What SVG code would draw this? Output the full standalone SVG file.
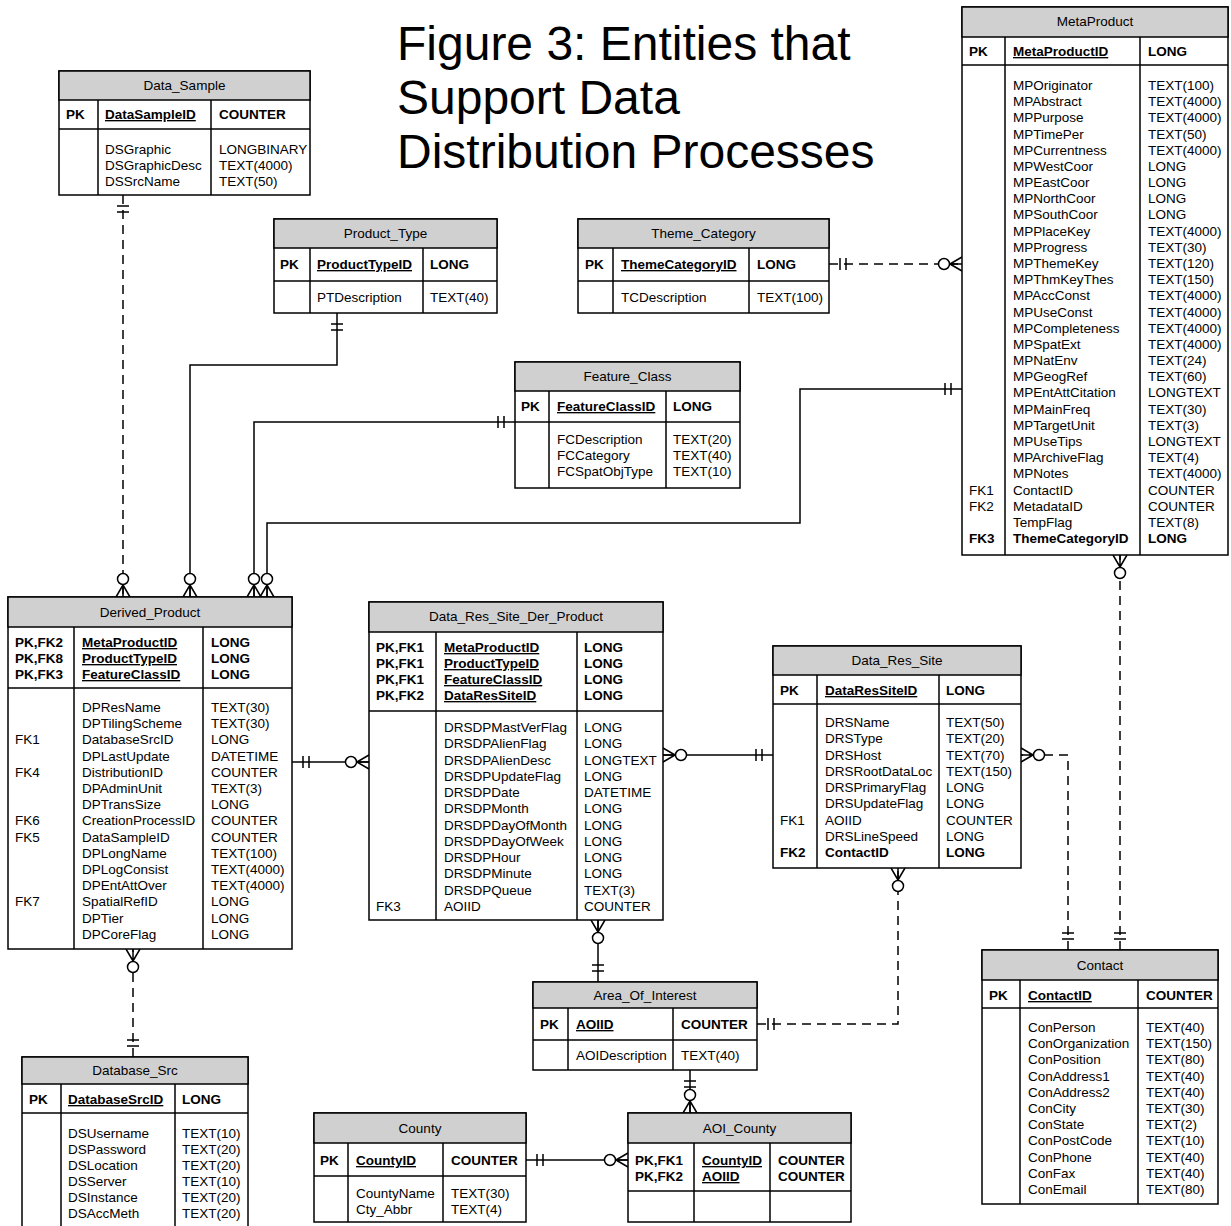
<svg xmlns="http://www.w3.org/2000/svg" width="1231" height="1226" viewBox="0 0 1231 1226">
<style>
text{font-family:"Liberation Sans",Arial,Helvetica,sans-serif;font-size:13.5px;fill:#000}
.title{font-size:48px}
.c{text-anchor:middle}
.b{font-weight:bold}
.u{text-decoration:underline}
.box{fill:#fff;stroke:#000;stroke-width:1.5}
.hdr{fill:#d0d0d0;stroke:#000;stroke-width:1.5}
.ln{stroke:#000;stroke-width:1.5}
.cn{fill:none;stroke:#000;stroke-width:1.5;marker-start:url(#one);marker-end:url(#zm)}
.d{stroke-dasharray:9 6}
</style>
<defs>
<marker id="one" markerUnits="userSpaceOnUse" markerWidth="40" markerHeight="20" refX="0" refY="0" orient="auto-start-reverse" style="overflow:visible">
<path d="M-11,-6V6M-17,-6V6" fill="none" stroke="#000" stroke-width="1.5"/>
</marker>
<marker id="zm" markerUnits="userSpaceOnUse" markerWidth="40" markerHeight="20" refX="0" refY="0" orient="auto" style="overflow:visible">
<path d="M-12,0L0,-7M-12,0L0,0M-12,0L0,7" fill="none" stroke="#000" stroke-width="1.5"/>
<circle cx="-18" cy="0" r="5.5" fill="#fff" stroke="#000" stroke-width="1.5"/>
</marker>
</defs>
<rect width="1231" height="1226" fill="#fff"/>

<g id="title">
<text class="title" x="397" y="60">Figure 3: Entities that</text>
<text class="title" x="397" y="114">Support Data</text>
<text class="title" x="397" y="168">Distribution Processes</text>
</g>

<g id="connectors">
<path class="cn d" d="M123,195V597"/>
<path class="cn" d="M337,313V365H190V597"/>
<path class="cn" d="M515,422H254V597"/>
<path class="cn" d="M962,389H800V523H267V597"/>
<path class="cn" d="M292,762H369"/>
<path class="cn" d="M773,755H663"/>
<path class="cn d" d="M1068,950V755H1021"/>
<path class="cn d" d="M1120,950V555"/>
<path class="cn d" d="M829,264H962"/>
<path class="cn d" d="M133,1057V949"/>
<path class="cn" d="M598,982V920"/>
<path class="cn d" d="M757,1024H898V868"/>
<path class="cn" d="M690,1070V1113"/>
<path class="cn" d="M526,1160H628"/>
</g>

<g id="Data_Sample">
<rect class="box" x="59" y="71" width="251" height="124"/>
<rect class="hdr" x="59" y="71" width="251" height="29"/>
<line class="ln" x1="59" y1="129" x2="310" y2="129"/>
<line class="ln" x1="98" y1="100" x2="98" y2="195"/>
<line class="ln" x1="211" y1="100" x2="211" y2="195"/>
<text class="c" x="184.5" y="90">Data_Sample</text>
<text class="b" x="66" y="119">PK</text>
<text class="b u" x="105" y="119">DataSampleID</text>
<text class="b" x="219" y="119">COUNTER</text>
<text x="105" y="154">DSGraphic</text>
<text x="105" y="170">DSGraphicDesc</text>
<text x="105" y="186">DSSrcName</text>
<text x="219" y="154">LONGBINARY</text>
<text x="219" y="170">TEXT(4000)</text>
<text x="219" y="186">TEXT(50)</text>
</g>

<g id="Product_Type">
<rect class="box" x="274" y="219" width="223" height="94"/>
<rect class="hdr" x="274" y="219" width="223" height="29"/>
<line class="ln" x1="274" y1="281" x2="497" y2="281"/>
<line class="ln" x1="310" y1="248" x2="310" y2="313"/>
<line class="ln" x1="423" y1="248" x2="423" y2="313"/>
<text class="c" x="385.5" y="238">Product_Type</text>
<text class="b" x="280" y="269">PK</text>
<text class="b u" x="317" y="269">ProductTypeID</text>
<text class="b" x="430" y="269">LONG</text>
<text x="317" y="302">PTDescription</text>
<text x="430" y="302">TEXT(40)</text>
</g>

<g id="Theme_Category">
<rect class="box" x="578" y="219" width="251" height="94"/>
<rect class="hdr" x="578" y="219" width="251" height="29"/>
<line class="ln" x1="578" y1="281" x2="829" y2="281"/>
<line class="ln" x1="613" y1="248" x2="613" y2="313"/>
<line class="ln" x1="749" y1="248" x2="749" y2="313"/>
<text class="c" x="703.5" y="238">Theme_Category</text>
<text class="b" x="585" y="269">PK</text>
<text class="b u" x="621" y="269">ThemeCategoryID</text>
<text class="b" x="757" y="269">LONG</text>
<text x="621" y="302">TCDescription</text>
<text x="757" y="302">TEXT(100)</text>
</g>

<g id="Feature_Class">
<rect class="box" x="515" y="362" width="225" height="126"/>
<rect class="hdr" x="515" y="362" width="225" height="29"/>
<line class="ln" x1="515" y1="422" x2="740" y2="422"/>
<line class="ln" x1="549" y1="391" x2="549" y2="488"/>
<line class="ln" x1="666" y1="391" x2="666" y2="488"/>
<text class="c" x="627.5" y="381">Feature_Class</text>
<text class="b" x="521" y="411">PK</text>
<text class="b u" x="557" y="411">FeatureClassID</text>
<text class="b" x="673" y="411">LONG</text>
<text x="557" y="444">FCDescription</text>
<text x="557" y="460">FCCategory</text>
<text x="557" y="476">FCSpatObjType</text>
<text x="673" y="444">TEXT(20)</text>
<text x="673" y="460">TEXT(40)</text>
<text x="673" y="476">TEXT(10)</text>
</g>

<g id="MetaProduct">
<rect class="box" x="962" y="7" width="266" height="548"/>
<rect class="hdr" x="962" y="7" width="266" height="30"/>
<line class="ln" x1="962" y1="65" x2="1228" y2="65"/>
<line class="ln" x1="1005" y1="37" x2="1005" y2="555"/>
<line class="ln" x1="1140" y1="37" x2="1140" y2="555"/>
<text class="c" x="1095" y="26">MetaProduct</text>
<text class="b" x="969" y="56">PK</text>
<text class="b u" x="1013" y="56">MetaProductID</text>
<text class="b" x="1148" y="56">LONG</text>
<text x="969"><tspan x="969" y="494.5">FK1</tspan><tspan x="969" y="510.7">FK2</tspan></text>
<text class="b" x="969" y="543">FK3</text>
<text><tspan x="1013" y="90">MPOriginator</tspan><tspan x="1013" y="106.2">MPAbstract</tspan><tspan x="1013" y="122.4">MPPurpose</tspan><tspan x="1013" y="138.5">MPTimePer</tspan><tspan x="1013" y="154.7">MPCurrentness</tspan><tspan x="1013" y="170.9">MPWestCoor</tspan><tspan x="1013" y="187.1">MPEastCoor</tspan><tspan x="1013" y="203.3">MPNorthCoor</tspan><tspan x="1013" y="219.4">MPSouthCoor</tspan><tspan x="1013" y="235.6">MPPlaceKey</tspan><tspan x="1013" y="251.8">MPProgress</tspan><tspan x="1013" y="268">MPThemeKey</tspan><tspan x="1013" y="284.2">MPThmKeyThes</tspan><tspan x="1013" y="300.3">MPAccConst</tspan><tspan x="1013" y="316.5">MPUseConst</tspan><tspan x="1013" y="332.7">MPCompleteness</tspan><tspan x="1013" y="348.9">MPSpatExt</tspan><tspan x="1013" y="365.1">MPNatEnv</tspan><tspan x="1013" y="381.2">MPGeogRef</tspan><tspan x="1013" y="397.4">MPEntAttCitation</tspan><tspan x="1013" y="413.6">MPMainFreq</tspan><tspan x="1013" y="429.8">MPTargetUnit</tspan><tspan x="1013" y="446">MPUseTips</tspan><tspan x="1013" y="462.1">MPArchiveFlag</tspan><tspan x="1013" y="478.3">MPNotes</tspan><tspan x="1013" y="494.5">ContactID</tspan><tspan x="1013" y="510.7">MetadataID</tspan><tspan x="1013" y="526.9">TempFlag</tspan></text>
<text class="b" x="1013" y="543">ThemeCategoryID</text>
<text><tspan x="1148" y="90">TEXT(100)</tspan><tspan x="1148" y="106.2">TEXT(4000)</tspan><tspan x="1148" y="122.4">TEXT(4000)</tspan><tspan x="1148" y="138.5">TEXT(50)</tspan><tspan x="1148" y="154.7">TEXT(4000)</tspan><tspan x="1148" y="170.9">LONG</tspan><tspan x="1148" y="187.1">LONG</tspan><tspan x="1148" y="203.3">LONG</tspan><tspan x="1148" y="219.4">LONG</tspan><tspan x="1148" y="235.6">TEXT(4000)</tspan><tspan x="1148" y="251.8">TEXT(30)</tspan><tspan x="1148" y="268">TEXT(120)</tspan><tspan x="1148" y="284.2">TEXT(150)</tspan><tspan x="1148" y="300.3">TEXT(4000)</tspan><tspan x="1148" y="316.5">TEXT(4000)</tspan><tspan x="1148" y="332.7">TEXT(4000)</tspan><tspan x="1148" y="348.9">TEXT(4000)</tspan><tspan x="1148" y="365.1">TEXT(24)</tspan><tspan x="1148" y="381.2">TEXT(60)</tspan><tspan x="1148" y="397.4">LONGTEXT</tspan><tspan x="1148" y="413.6">TEXT(30)</tspan><tspan x="1148" y="429.8">TEXT(3)</tspan><tspan x="1148" y="446">LONGTEXT</tspan><tspan x="1148" y="462.1">TEXT(4)</tspan><tspan x="1148" y="478.3">TEXT(4000)</tspan><tspan x="1148" y="494.5">COUNTER</tspan><tspan x="1148" y="510.7">COUNTER</tspan><tspan x="1148" y="526.9">TEXT(8)</tspan></text>
<text class="b" x="1148" y="543">LONG</text>
</g>

<g id="Derived_Product">
<rect class="box" x="8" y="597" width="284" height="352"/>
<rect class="hdr" x="8" y="597" width="284" height="30"/>
<line class="ln" x1="8" y1="688" x2="292" y2="688"/>
<line class="ln" x1="74" y1="627" x2="74" y2="949"/>
<line class="ln" x1="203" y1="627" x2="203" y2="949"/>
<text class="c" x="150" y="617">Derived_Product</text>
<text class="b"><tspan x="15" y="647">PK,FK2</tspan><tspan x="15" y="663">PK,FK8</tspan><tspan x="15" y="679">PK,FK3</tspan></text>
<text class="b u"><tspan x="82" y="647">MetaProductID</tspan><tspan x="82" y="663">ProductTypeID</tspan><tspan x="82" y="679">FeatureClassID</tspan></text>
<text class="b"><tspan x="211" y="647">LONG</tspan><tspan x="211" y="663">LONG</tspan><tspan x="211" y="679">LONG</tspan></text>
<text><tspan x="15" y="744.4">FK1</tspan><tspan x="15" y="776.8">FK4</tspan><tspan x="15" y="825.4">FK6</tspan><tspan x="15" y="841.6">FK5</tspan><tspan x="15" y="906.4">FK7</tspan></text>
<text><tspan x="82" y="712">DPResName</tspan><tspan x="82" y="728.2">DPTilingScheme</tspan><tspan x="82" y="744.4">DatabaseSrcID</tspan><tspan x="82" y="760.6">DPLastUpdate</tspan><tspan x="82" y="776.8">DistributionID</tspan><tspan x="82" y="793">DPAdminUnit</tspan><tspan x="82" y="809.2">DPTransSize</tspan><tspan x="82" y="825.4">CreationProcessID</tspan><tspan x="82" y="841.6">DataSampleID</tspan><tspan x="82" y="857.8">DPLongName</tspan><tspan x="82" y="874">DPLogConsist</tspan><tspan x="82" y="890.2">DPEntAttOver</tspan><tspan x="82" y="906.4">SpatialRefID</tspan><tspan x="82" y="922.6">DPTier</tspan><tspan x="82" y="938.8">DPCoreFlag</tspan></text>
<text><tspan x="211" y="712">TEXT(30)</tspan><tspan x="211" y="728.2">TEXT(30)</tspan><tspan x="211" y="744.4">LONG</tspan><tspan x="211" y="760.6">DATETIME</tspan><tspan x="211" y="776.8">COUNTER</tspan><tspan x="211" y="793">TEXT(3)</tspan><tspan x="211" y="809.2">LONG</tspan><tspan x="211" y="825.4">COUNTER</tspan><tspan x="211" y="841.6">COUNTER</tspan><tspan x="211" y="857.8">TEXT(100)</tspan><tspan x="211" y="874">TEXT(4000)</tspan><tspan x="211" y="890.2">TEXT(4000)</tspan><tspan x="211" y="906.4">LONG</tspan><tspan x="211" y="922.6">LONG</tspan><tspan x="211" y="938.8">LONG</tspan></text>
</g>

<g id="Data_Res_Site_Der_Product">
<rect class="box" x="369" y="602" width="294" height="318"/>
<rect class="hdr" x="369" y="602" width="294" height="30"/>
<line class="ln" x1="369" y1="711" x2="663" y2="711"/>
<line class="ln" x1="436" y1="632" x2="436" y2="920"/>
<line class="ln" x1="577" y1="632" x2="577" y2="920"/>
<text class="c" x="516" y="621">Data_Res_Site_Der_Product</text>
<text class="b"><tspan x="376" y="652">PK,FK1</tspan><tspan x="376" y="668">PK,FK1</tspan><tspan x="376" y="684">PK,FK1</tspan><tspan x="376" y="700">PK,FK2</tspan></text>
<text class="b u"><tspan x="444" y="652">MetaProductID</tspan><tspan x="444" y="668">ProductTypeID</tspan><tspan x="444" y="684">FeatureClassID</tspan><tspan x="444" y="700">DataResSiteID</tspan></text>
<text class="b"><tspan x="584" y="652">LONG</tspan><tspan x="584" y="668">LONG</tspan><tspan x="584" y="684">LONG</tspan><tspan x="584" y="700">LONG</tspan></text>
<text x="376" y="911">FK3</text>
<text><tspan x="444" y="732">DRSDPMastVerFlag</tspan><tspan x="444" y="748.3">DRSDPAlienFlag</tspan><tspan x="444" y="764.5">DRSDPAlienDesc</tspan><tspan x="444" y="780.8">DRSDPUpdateFlag</tspan><tspan x="444" y="797.1">DRSDPDate</tspan><tspan x="444" y="813.4">DRSDPMonth</tspan><tspan x="444" y="829.6">DRSDPDayOfMonth</tspan><tspan x="444" y="845.9">DRSDPDayOfWeek</tspan><tspan x="444" y="862.2">DRSDPHour</tspan><tspan x="444" y="878.4">DRSDPMinute</tspan><tspan x="444" y="894.7">DRSDPQueue</tspan><tspan x="444" y="911">AOIID</tspan></text>
<text><tspan x="584" y="732">LONG</tspan><tspan x="584" y="748.3">LONG</tspan><tspan x="584" y="764.5">LONGTEXT</tspan><tspan x="584" y="780.8">LONG</tspan><tspan x="584" y="797.1">DATETIME</tspan><tspan x="584" y="813.4">LONG</tspan><tspan x="584" y="829.6">LONG</tspan><tspan x="584" y="845.9">LONG</tspan><tspan x="584" y="862.2">LONG</tspan><tspan x="584" y="878.4">LONG</tspan><tspan x="584" y="894.7">TEXT(3)</tspan><tspan x="584" y="911">COUNTER</tspan></text>
</g>

<g id="Data_Res_Site">
<rect class="box" x="773" y="646" width="248" height="222"/>
<rect class="hdr" x="773" y="646" width="248" height="29"/>
<line class="ln" x1="773" y1="704" x2="1021" y2="704"/>
<line class="ln" x1="817" y1="675" x2="817" y2="868"/>
<line class="ln" x1="939" y1="675" x2="939" y2="868"/>
<text class="c" x="897" y="665">Data_Res_Site</text>
<text class="b" x="780" y="695">PK</text>
<text class="b u" x="825" y="695">DataResSiteID</text>
<text class="b" x="946" y="695">LONG</text>
<text x="780" y="824.5">FK1</text>
<text class="b" x="780" y="857">FK2</text>
<text><tspan x="825" y="727">DRSName</tspan><tspan x="825" y="743.3">DRSType</tspan><tspan x="825" y="759.5">DRSHost</tspan><tspan x="825" y="775.8">DRSRootDataLoc</tspan><tspan x="825" y="792">DRSPrimaryFlag</tspan><tspan x="825" y="808.3">DRSUpdateFlag</tspan><tspan x="825" y="824.5">AOIID</tspan><tspan x="825" y="840.8">DRSLineSpeed</tspan></text>
<text class="b" x="825" y="857">ContactID</text>
<text><tspan x="946" y="727">TEXT(50)</tspan><tspan x="946" y="743.3">TEXT(20)</tspan><tspan x="946" y="759.5">TEXT(70)</tspan><tspan x="946" y="775.8">TEXT(150)</tspan><tspan x="946" y="792">LONG</tspan><tspan x="946" y="808.3">LONG</tspan><tspan x="946" y="824.5">COUNTER</tspan><tspan x="946" y="840.8">LONG</tspan></text>
<text class="b" x="946" y="857">LONG</text>
</g>

<g id="Contact">
<rect class="box" x="982" y="950" width="236" height="254"/>
<rect class="hdr" x="982" y="950" width="236" height="30"/>
<line class="ln" x1="982" y1="1008" x2="1218" y2="1008"/>
<line class="ln" x1="1020" y1="980" x2="1020" y2="1204"/>
<line class="ln" x1="1138" y1="980" x2="1138" y2="1204"/>
<text class="c" x="1100" y="970">Contact</text>
<text class="b" x="989" y="1000">PK</text>
<text class="b u" x="1028" y="1000">ContactID</text>
<text class="b" x="1146" y="1000">COUNTER</text>
<text><tspan x="1028" y="1032">ConPerson</tspan><tspan x="1028" y="1048.2">ConOrganization</tspan><tspan x="1028" y="1064.4">ConPosition</tspan><tspan x="1028" y="1080.6">ConAddress1</tspan><tspan x="1028" y="1096.8">ConAddress2</tspan><tspan x="1028" y="1113">ConCity</tspan><tspan x="1028" y="1129.2">ConState</tspan><tspan x="1028" y="1145.4">ConPostCode</tspan><tspan x="1028" y="1161.6">ConPhone</tspan><tspan x="1028" y="1177.8">ConFax</tspan><tspan x="1028" y="1194">ConEmail</tspan></text>
<text><tspan x="1146" y="1032">TEXT(40)</tspan><tspan x="1146" y="1048.2">TEXT(150)</tspan><tspan x="1146" y="1064.4">TEXT(80)</tspan><tspan x="1146" y="1080.6">TEXT(40)</tspan><tspan x="1146" y="1096.8">TEXT(40)</tspan><tspan x="1146" y="1113">TEXT(30)</tspan><tspan x="1146" y="1129.2">TEXT(2)</tspan><tspan x="1146" y="1145.4">TEXT(10)</tspan><tspan x="1146" y="1161.6">TEXT(40)</tspan><tspan x="1146" y="1177.8">TEXT(40)</tspan><tspan x="1146" y="1194">TEXT(80)</tspan></text>
</g>

<g id="Database_Src">
<rect class="box" x="22" y="1057" width="226" height="180"/>
<rect class="hdr" x="22" y="1057" width="226" height="27"/>
<line class="ln" x1="22" y1="1113" x2="248" y2="1113"/>
<line class="ln" x1="61" y1="1084" x2="61" y2="1237"/>
<line class="ln" x1="175" y1="1084" x2="175" y2="1237"/>
<text class="c" x="135" y="1075">Database_Src</text>
<text class="b" x="29" y="1104">PK</text>
<text class="b u" x="68" y="1104">DatabaseSrcID</text>
<text class="b" x="182" y="1104">LONG</text>
<text><tspan x="68" y="1138">DSUsername</tspan><tspan x="68" y="1154">DSPassword</tspan><tspan x="68" y="1170">DSLocation</tspan><tspan x="68" y="1186">DSServer</tspan><tspan x="68" y="1202">DSInstance</tspan><tspan x="68" y="1218">DSAccMeth</tspan></text>
<text><tspan x="182" y="1138">TEXT(10)</tspan><tspan x="182" y="1154">TEXT(20)</tspan><tspan x="182" y="1170">TEXT(20)</tspan><tspan x="182" y="1186">TEXT(10)</tspan><tspan x="182" y="1202">TEXT(20)</tspan><tspan x="182" y="1218">TEXT(20)</tspan></text>
</g>

<g id="Area_Of_Interest">
<rect class="box" x="533" y="982" width="224" height="88"/>
<rect class="hdr" x="533" y="982" width="224" height="26"/>
<line class="ln" x1="533" y1="1040" x2="757" y2="1040"/>
<line class="ln" x1="568" y1="1008" x2="568" y2="1070"/>
<line class="ln" x1="673" y1="1008" x2="673" y2="1070"/>
<text class="c" x="645" y="1000">Area_Of_Interest</text>
<text class="b" x="540" y="1029">PK</text>
<text class="b u" x="576" y="1029">AOIID</text>
<text class="b" x="681" y="1029">COUNTER</text>
<text x="576" y="1060">AOIDescription</text>
<text x="681" y="1060">TEXT(40)</text>
</g>

<g id="County">
<rect class="box" x="314" y="1113" width="212" height="109"/>
<rect class="hdr" x="314" y="1113" width="212" height="30"/>
<line class="ln" x1="314" y1="1176" x2="526" y2="1176"/>
<line class="ln" x1="348" y1="1143" x2="348" y2="1222"/>
<line class="ln" x1="443" y1="1143" x2="443" y2="1222"/>
<text class="c" x="420" y="1133">County</text>
<text class="b" x="320" y="1165">PK</text>
<text class="b u" x="356" y="1165">CountyID</text>
<text class="b" x="451" y="1165">COUNTER</text>
<text x="356" y="1198">CountyName</text>
<text x="356" y="1214">Cty_Abbr</text>
<text x="451" y="1198">TEXT(30)</text>
<text x="451" y="1214">TEXT(4)</text>
</g>

<g id="AOI_County">
<rect class="box" x="628" y="1113" width="223" height="109"/>
<rect class="hdr" x="628" y="1113" width="223" height="30"/>
<line class="ln" x1="628" y1="1191" x2="851" y2="1191"/>
<line class="ln" x1="694" y1="1143" x2="694" y2="1222"/>
<line class="ln" x1="770" y1="1143" x2="770" y2="1222"/>
<text class="c" x="739.5" y="1133">AOI_County</text>
<text class="b"><tspan x="635" y="1165">PK,FK1</tspan><tspan x="635" y="1181">PK,FK2</tspan></text>
<text class="b u"><tspan x="702" y="1165">CountyID</tspan><tspan x="702" y="1181">AOIID</tspan></text>
<text class="b"><tspan x="778" y="1165">COUNTER</tspan><tspan x="778" y="1181">COUNTER</tspan></text>
</g>
</svg>
